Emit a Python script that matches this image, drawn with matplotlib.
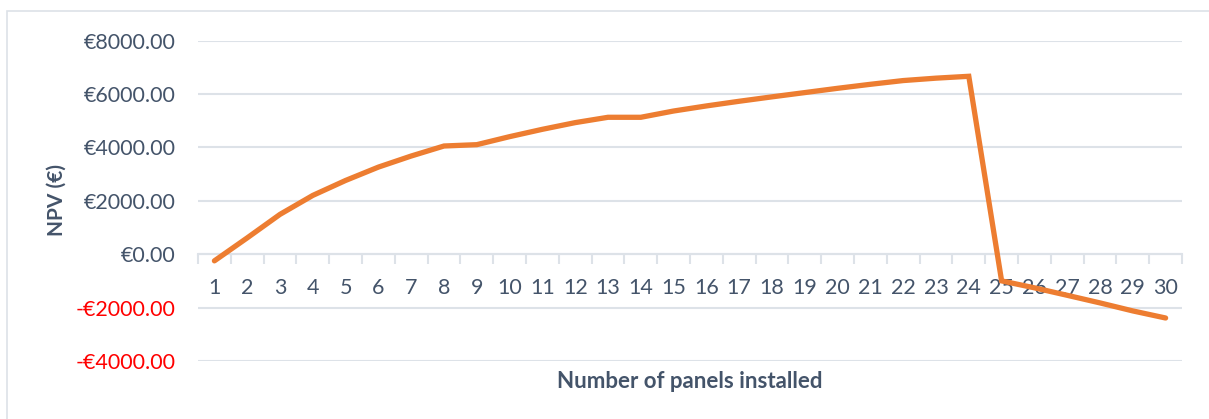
import matplotlib.pyplot as plt
from matplotlib.patches import Rectangle
from matplotlib.ticker import FixedLocator, FuncFormatter

# NPV per number of panels
panels = list(range(1, 31))
npv = [-250, 610, 1490, 2200, 2760, 3260, 3675, 4050, 4100, 4400,
       4675, 4925, 5125, 5125, 5360, 5550, 5725, 5890, 6050, 6210,
       6360, 6500, 6590, 6660, -1000, -1260, -1540, -1825, -2125, -2390]
y_ticks = [-4000, -2000, 0, 2000, 4000, 6000, 8000]

text_col = '#44546A'
grid_col = '#DDE2E8'
plt.rcParams['font.family'] = ['Lato', 'DejaVu Sans']

fig = plt.figure(figsize=(12.09, 4.19), dpi=100)
ax = fig.add_axes([198 / 1209, 1 - 361 / 419, (1182 - 198) / 1209, (361 - 40.5) / 419])

# outer chart border (only top and left fall inside the picture)
fig.patches.append(Rectangle((7 / 1209, -0.05), 1.0, 1.05 - 11.5 / 419, transform=fig.transFigure,
                             fill=False, edgecolor=grid_col, linewidth=1.2))

ax.plot(panels, npv, color='#ED7D31', linewidth=3.8, solid_capstyle='round',
        solid_joinstyle='miter', zorder=3)

ax.set_xlim(0.5, 30.5)
ax.set_ylim(-4000, 8000)
ax.yaxis.set_major_locator(FixedLocator(y_ticks))
ax.yaxis.set_major_formatter(FuncFormatter(lambda v, p: f'-€{abs(v):.2f}' if v < 0 else f'€{v:.2f}'))
ax.grid(axis='y', color=grid_col, linewidth=1.5, zorder=0)
ax.tick_params(axis='y', length=0, pad=16, labelsize=15.5, labelcolor=text_col)
for lbl, v in zip(ax.get_yticklabels(), y_ticks):
    if v < 0:
        lbl.set_color('#FF0000')

for s in ['top', 'right', 'left']:
    ax.spines[s].set_visible(False)
ax.spines['bottom'].set_position(('data', 0))
ax.spines['bottom'].set_color(grid_col)
ax.spines['bottom'].set_linewidth(1.5)

ax.set_xticks(panels)
ax.set_xticklabels([str(p) for p in panels])
ax.set_xticks([p + 0.5 for p in range(0, 31)], minor=True)
ax.tick_params(axis='x', which='major', length=0, pad=17, labelsize=15.5, labelcolor=text_col)
ax.tick_params(axis='x', which='minor', length=7, width=1.5, color=grid_col, direction='out')

fig.text(690 / 1209, 1 - 381 / 419, 'Number of panels installed', ha='center', va='center',
         fontsize=16, fontweight='bold', color=text_col)
fig.text(57 / 1209, 1 - 200 / 419, 'NPV (€)', ha='center', va='center', rotation=90,
         fontsize=15, fontweight='bold', color=text_col)

fig.savefig('out.png', dpi=100)
